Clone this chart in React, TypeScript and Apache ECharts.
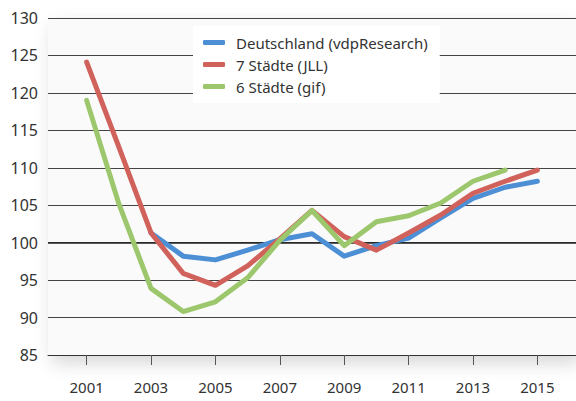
import React, { useEffect, useRef } from "react";
import * as echarts from "echarts";

const years = [2001, 2002, 2003, 2004, 2005, 2006, 2007, 2008, 2009, 2010, 2011, 2012, 2013, 2014, 2015];
const deutschland = [null, null, 101.3, 98.2, 97.7, 99.0, 100.4, 101.2, 98.2, 99.6, 100.6, 103.3, 105.9, 107.4, 108.2];
const sieben = [124.1, 112.8, 101.3, 95.9, 94.3, 96.9, 100.5, 104.3, 100.8, 99.0, 101.3, 103.7, 106.6, 108.2, 109.7];
const sechs = [119.0, 105.2, 93.9, 90.8, 92.1, 95.3, 100.3, 104.3, 99.6, 102.8, 103.6, 105.3, 108.2, 109.7, null];
const xTickLabels = [2001, 2003, 2005, 2007, 2009, 2011, 2013, 2015];
const seriesNames = ["Deutschland (vdpResearch)", "7 Städte (JLL)", "6 Städte (gif)"];
const colors = ["#4d8fd5", "#d0615b", "#9dc76c"];

const toPairs = (vals: (number | null)[]) =>
  years.map((y, i) => [y, vals[i]]).filter((p) => p[1] !== null);

export default function App() {
  const ref = useRef<HTMLDivElement>(null);
  useEffect(() => {
    if (!ref.current) return;
    const chart = echarts.init(ref.current, null, { renderer: "svg" });
    const font = "Noto Sans";
    const lineSeries = (name: string, vals: (number | null)[], color: string, extra: any = {}) => ({
      name,
      type: "line",
      data: toPairs(vals),
      symbol: "none",
      lineStyle: { color, width: 5, cap: "round", join: "round" },
      itemStyle: { color },
      z: 3,
      ...extra,
    });
    chart.setOption({
      animation: false,
      backgroundColor: "#ffffff",
      textStyle: { fontFamily: font },
      grid: {
        left: 48,
        right: 0,
        top: 18,
        bottom: 46,
        show: true,
        backgroundColor: "#fafafa",
        borderWidth: 0,
        shadowBlur: 18,
        shadowColor: "rgba(0,0,0,0.16)",
        shadowOffsetY: 8,
        shadowOffsetX: 4,
      },
      legend: {
        data: seriesNames,
        orient: "vertical",
        left: 193,
        top: 26,
        backgroundColor: "#ffffff",
        padding: [9, 12, 9, 10],
        itemWidth: 22,
        itemHeight: 5,
        itemGap: 7,
        icon: "roundRect",
        textStyle: { fontFamily: font, fontSize: 15, color: "#333", lineHeight: 15, padding: [0, 0, 0, 6] },
      },
      xAxis: {
        type: "value",
        min: 1999.8,
        max: 2016.2,
        splitLine: { show: false },
        axisLine: { show: true, lineStyle: { color: "#333", width: 1 } },
        axisTick: {
          show: true,
          length: 10,
          customValues: xTickLabels,
          lineStyle: { color: "#555", width: 1 },
        },
        axisLabel: {
          customValues: xTickLabels,
          formatter: (v: number) => String(v),
          fontFamily: font,
          fontSize: 15,
          color: "#333",
          margin: 24,
        },
      },
      yAxis: {
        type: "value",
        min: 85,
        max: 130,
        interval: 5,
        axisLine: { show: false },
        axisTick: { show: false },
        splitLine: { show: true, lineStyle: { color: "#444", width: 1 } },
        axisLabel: { fontFamily: font, fontSize: 16, color: "#333", margin: 10 },
      },
      series: [
        lineSeries(seriesNames[0], deutschland, colors[0], {
          markLine: {
            silent: true,
            symbol: "none",
            label: { show: false },
            lineStyle: { color: "#222", width: 1.6, type: "solid" },
            data: [{ yAxis: 100 }],
            z: 1,
          },
        }),
        lineSeries(seriesNames[1], sieben, colors[1]),
        lineSeries(seriesNames[2], sechs, colors[2]),
      ],
    });
    return () => chart.dispose();
  }, []);
  return <div ref={ref} style={{ position: "fixed", left: 0, top: 0, width: 576, height: 401 }} />;
}
